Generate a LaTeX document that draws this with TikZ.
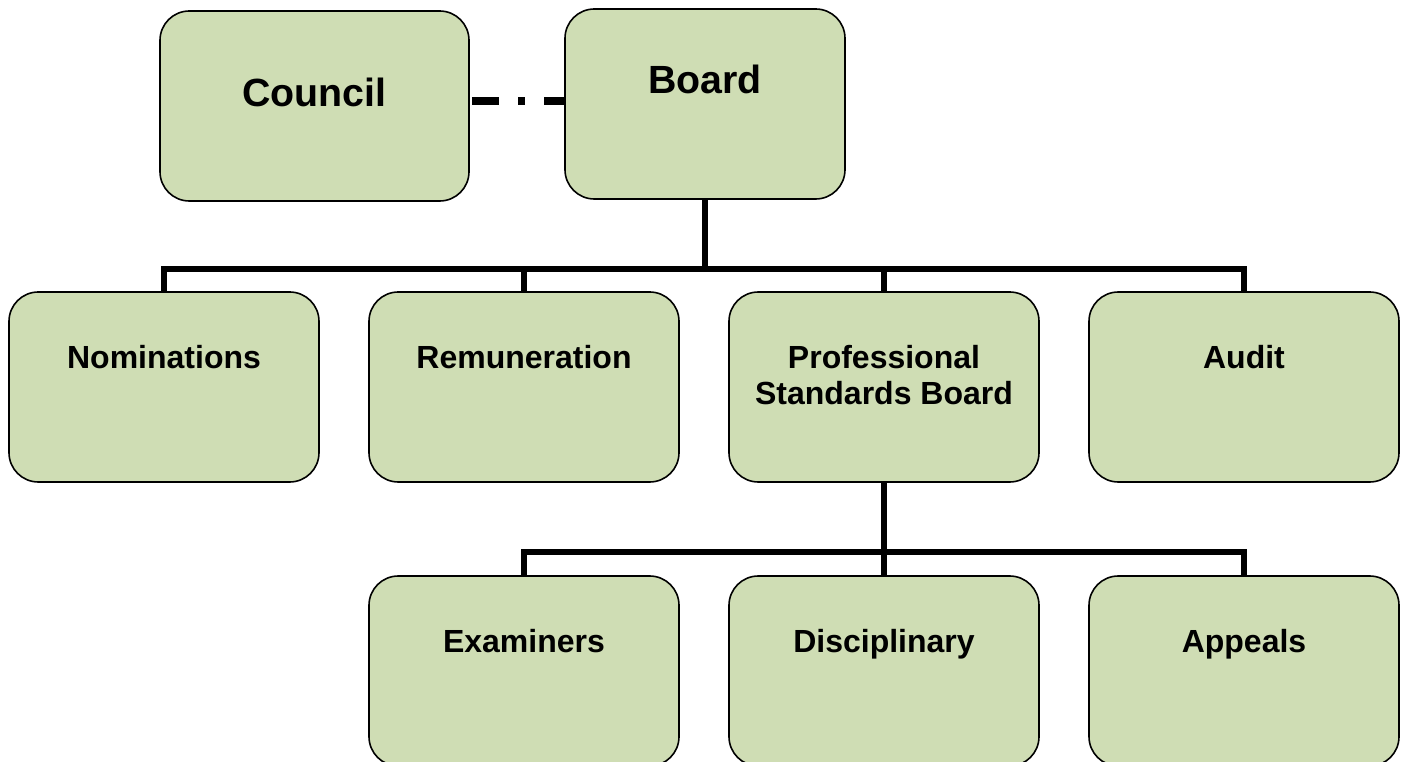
\documentclass[tikz,border=0pt]{standalone}
\usepackage{fontspec}
\setmainfont{Liberation Sans}
\definecolor{boxgreen}{RGB}{207,221,180}

\begin{document}
\begin{tikzpicture}[x=0.75pt, y=-0.75pt,
  orgbox/.style={draw, line width=1.2pt, fill=boxgreen, rounded corners=22pt,
    minimum width=232.5pt, minimum height=142.5pt, inner sep=0pt},
  toptext/.style={anchor=base, inner sep=0pt, font=\bfseries\fontsize{29.5}{34}\selectfont},
  rowtext/.style={anchor=base, inner sep=0pt, yshift=-57.75pt, align=center,
    font=\bfseries\fontsize{24}{27.5}\selectfont},
  link/.style={line width=4.5pt, line join=miter},
  dashlink/.style={line width=6pt, dash pattern=on 20.25pt off 14.25pt on 5.25pt off 14.25pt, dash phase=52pt}]
  \useasboundingbox (0,0) rectangle (1411,762);
  % top level
  \node[orgbox, minimum width=231.75pt, label={[toptext, yshift=-72pt]north:Council}] (council) at (314.5,106) {};
  \node[orgbox, minimum width=210pt, label={[toptext, yshift=-63.75pt]north:Board}] (board) at (705,104) {};
  % committees
  \node[orgbox, label={[rowtext]north:Nominations}] (nom) at (164,387) {};
  \node[orgbox, label={[rowtext]north:Remuneration}] (rem) at (524,387) {};
  \node[orgbox, label={[rowtext, yshift=-27.5pt]north:Professional\\Standards Board}] (psb) at (884,387) {};
  \node[orgbox, label={[rowtext]north:Audit}] (aud) at (1244,387) {};
  % under the professional standards board
  \node[orgbox, label={[rowtext]north:Examiners}] (exa) at (524,671) {};
  \node[orgbox, label={[rowtext]north:Disciplinary}] (dis) at (884,671) {};
  \node[orgbox, label={[rowtext]north:Appeals}] (app) at (1244,671) {};
  % lines
  \coordinate (dashl) at ([yshift=3.75pt]council.east);
  \draw[dashlink] (dashl) -- (dashl -| board.west);
  \coordinate (bus1) at (0,269);
  \coordinate (bus2) at (0,552);
  \foreach \n in {nom,rem,psb,aud}
    \draw[link] (board.south) -- (board.south |- bus1) -| (\n.north);
  \foreach \n in {exa,dis,app}
    \draw[link] (psb.south) -- (psb.south |- bus2) -| (\n.north);
\end{tikzpicture}
\end{document}
